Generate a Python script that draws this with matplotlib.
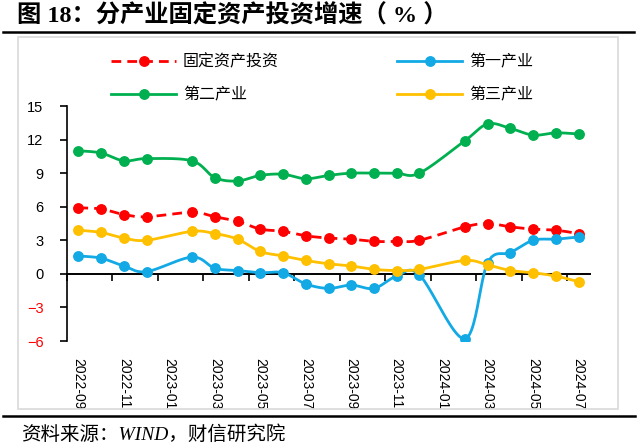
import numpy as np
import matplotlib
matplotlib.use("Agg")
import matplotlib.pyplot as plt
from matplotlib.lines import Line2D
from matplotlib.patches import Rectangle

plt.rcParams['font.family'] = ['Liberation Sans', 'Noto Sans CJK SC', 'DejaVu Sans']

months = ["2022-09", "2022-10", "2022-11", "2022-12", "2023-01", "2023-02",
          "2023-03", "2023-04", "2023-05", "2023-06", "2023-07", "2023-08",
          "2023-09", "2023-10", "2023-11", "2023-12", "2024-01", "2024-02",
          "2024-03", "2024-04", "2024-05", "2024-06", "2024-07"]

# January has no data point (Jan-Feb published together)
fai = [5.9, 5.8, 5.3, 5.1, None, 5.5, 5.1, 4.7, 4.0, 3.8, 3.4, 3.2,
       3.1, 2.9, 2.9, 3.0, None, 4.2, 4.5, 4.2, 4.0, 3.9, 3.6]
primary = [1.6, 1.4, 0.7, 0.2, None, 1.5, 0.5, 0.3, 0.1, 0.1, -0.9, -1.3,
           -1.0, -1.3, -0.2, -0.1, None, -5.8, 1.0, 1.9, 3.0, 3.1, 3.3]
secondary = [11.0, 10.8, 10.1, 10.3, None, 10.1, 8.6, 8.3, 8.8, 8.9, 8.5, 8.8,
             9.0, 9.0, 9.0, 9.0, None, 11.9, 13.4, 13.0, 12.4, 12.6, 12.5]
tertiary = [3.9, 3.7, 3.2, 3.0, None, 3.8, 3.6, 3.1, 2.0, 1.6, 1.2, 0.9,
            0.7, 0.4, 0.3, 0.4, None, 1.2, 0.8, 0.3, 0.1, -0.2, -0.7]

names = ["固定资产投资", "第一产业", "第二产业", "第三产业"]
colors = ["#FF0000", "#12A9E5", "#00B050", "#FFC000"]


def smooth(xs, ys, n=24):
    # excel-like smoothed line (catmull-rom as bezier)
    pts = np.array([(x, y) for x, y in zip(xs, ys) if y is not None], float)
    ext = np.vstack([pts[0], pts, pts[-1]])
    out = []
    t = np.linspace(0, 1, n)[:, None]
    for i in range(1, len(ext) - 2):
        p0, p1, p2, p3 = ext[i - 1], ext[i], ext[i + 1], ext[i + 2]
        c1 = p1 + (p2 - p0) / 6
        c2 = p2 - (p3 - p1) / 6
        seg = (1 - t) ** 3 * p1 + 3 * (1 - t) ** 2 * t * c1 + 3 * (1 - t) * t ** 2 * c2 + t ** 3 * p2
        out.append(seg if i == 1 else seg[1:])
    return np.vstack(out)


fig = plt.figure(figsize=(6.4, 4.48), dpi=100)
ax = fig.add_axes([67 / 640, 1 - 341 / 448, (590 - 67) / 640, (341 - 106) / 448])

x = np.arange(len(months))
dash = (3.5, 2.2)
handles = []
for i, (vals, c) in enumerate(zip([fai, primary, secondary, tertiary], colors)):
    curve = smooth(x, vals)
    ls = (0, dash) if i == 0 else '-'
    ax.plot(curve[:, 0], curve[:, 1], color=c, lw=2, ls=ls, zorder=3 + i)
    yv = np.array([np.nan if v is None else v for v in vals])
    ax.plot(x, yv, ls='none', marker='o', ms=6.8, color=c, zorder=3 + i)
    handles.append(Line2D([], [], color=c, lw=2, ls=ls, marker='o', ms=6.8))

ax.set_xlim(-0.5, len(months) - 0.5)
ax.set_ylim(-6, 15)
ax.set_yticks(range(-6, 16, 3))
ax.set_xticks(np.arange(-0.5, len(months) - 1, 2))
ax.tick_params(axis='x', direction='out', length=5, width=1.2, labelbottom=False)
ax.tick_params(axis='y', direction='out', length=5, width=1.2, labelsize=10.5, pad=12)
for lbl, v in zip(ax.get_yticklabels(), range(-6, 16, 3)):
    if v < 0:
        lbl.set_color("#FF0000")

for s in ['top', 'right']:
    ax.spines[s].set_visible(False)
ax.spines['left'].set_linewidth(1.2)
ax.spines['bottom'].set_position(('data', 0))
ax.spines['bottom'].set_linewidth(1.4)

sec = ax.secondary_xaxis(0.0)
sec.set_xticks(x[::2], labels=months[::2])
sec.tick_params(length=0, pad=12, labelsize=10, labelrotation=270)
sec.spines['bottom'].set_visible(False)

leg_kw = dict(loc='center left', frameon=False,
              prop={'family': ['Noto Sans CJK SC'], 'size': 11.5},
              handlelength=4.1, handletextpad=0.4, labelspacing=1.0,
              borderpad=0, borderaxespad=0)
fig.legend(handles=[handles[0], handles[2]], labels=[names[0], names[2]],
           bbox_to_anchor=(111 / 640, 1 - 78.5 / 448), **leg_kw)
fig.legend(handles=[handles[1], handles[3]], labels=[names[1], names[3]],
           bbox_to_anchor=(397 / 640, 1 - 78.5 / 448), **leg_kw)

fig.text(17 / 640, 1 - 16 / 448, "图 18：分产业固定资产投资增速（ % ）",
         fontsize=17.5, fontweight='bold', va='center',
         family=['Liberation Serif', 'Noto Sans CJK SC'])
fig.add_artist(Line2D([3 / 640, 634 / 640], [1 - 32 / 448] * 2, color='black', lw=1.8,
                      transform=fig.transFigure))
fig.add_artist(Rectangle((18 / 640, 1 - 409 / 448), 600 / 640, 372 / 448, fill=False,
                         ec='#D9D9D9', lw=1.2, transform=fig.transFigure))
fig.add_artist(Line2D([3 / 640, 635 / 640], [1 - 416 / 448] * 2, color='black', lw=1.8,
                      transform=fig.transFigure))
fig.text(21 / 640, 1 - 435 / 448, "资料来源：WIND，财信研究院", fontsize=14,
         style='italic', va='center', family=['Liberation Serif', 'Noto Sans CJK SC'])

fig.savefig("out.png", dpi=100)
